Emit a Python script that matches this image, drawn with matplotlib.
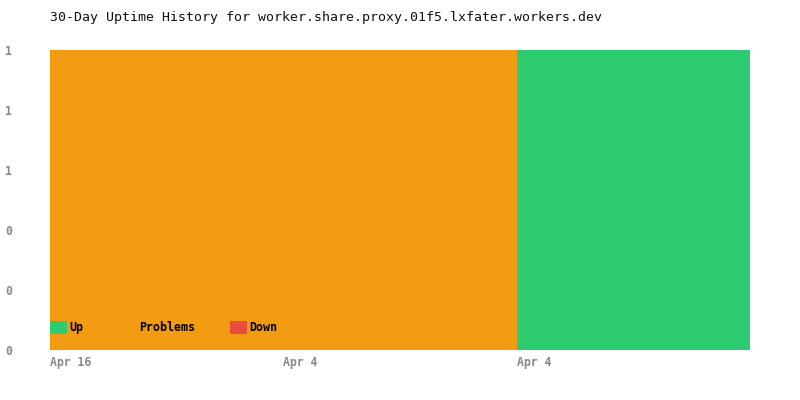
import numpy as np
import matplotlib
matplotlib.use("Agg")
import matplotlib.pyplot as plt

# data
days = ["Apr 16", "Apr 4", "Apr 4"]
up = [0, 0, 1]
problems = [1, 1, 0]
down = [0, 0, 0]

title = "30-Day Uptime History for worker.share.proxy.01f5.lxfater.workers.dev"

plt.rcParams["font.family"] = ["DejaVu Sans Mono"]

fig = plt.figure(figsize=(8, 4), dpi=100)
ax = fig.add_axes([50 / 800, 50 / 400, 700 / 800, 300 / 400])

x = np.arange(len(days))
up = np.array(up)
problems = np.array(problems)
down = np.array(down)

ax.bar(x, up, width=1, align="edge", color="#2ecc71", label="Up")
ax.bar(x, problems, width=1, align="edge", bottom=up, color="#f39c12", label="Problems")
ax.bar(x, down, width=1, align="edge", bottom=up + problems, color="#e74c3c", label="Down")

ax.set_xlim(0, len(days))
ax.set_ylim(0, 1)
for s in ax.spines.values():
    s.set_visible(False)

ax.set_xticks(x)
ax.set_xticklabels(days, ha="left")
yt = np.linspace(0, 1, 6)
ax.set_yticks(yt)
ax.set_yticklabels([f"{v:.0f}" for v in yt], ha="left")
ax.tick_params(axis="both", length=0, labelsize=8.3, labelcolor="#888888")
ax.tick_params(axis="y", pad=32.4)
ax.tick_params(axis="x", pad=4.5)
for lab in ax.get_xticklabels() + ax.get_yticklabels():
    lab.set_fontweight("bold")

leg = ax.legend(loc="lower left", bbox_to_anchor=(0, 0.052), ncol=3, frameon=False,
                prop={"size": 8.4, "weight": "bold"}, handlelength=1.45,
                handleheight=1.45, handletextpad=0.25, columnspacing=3.0,
                borderaxespad=0, borderpad=0)

fig.text(50 / 800, 1 - 18 / 400, title, fontsize=9.55, va="center", ha="left", color="#111111")

fig.savefig("out.png", dpi=100)
